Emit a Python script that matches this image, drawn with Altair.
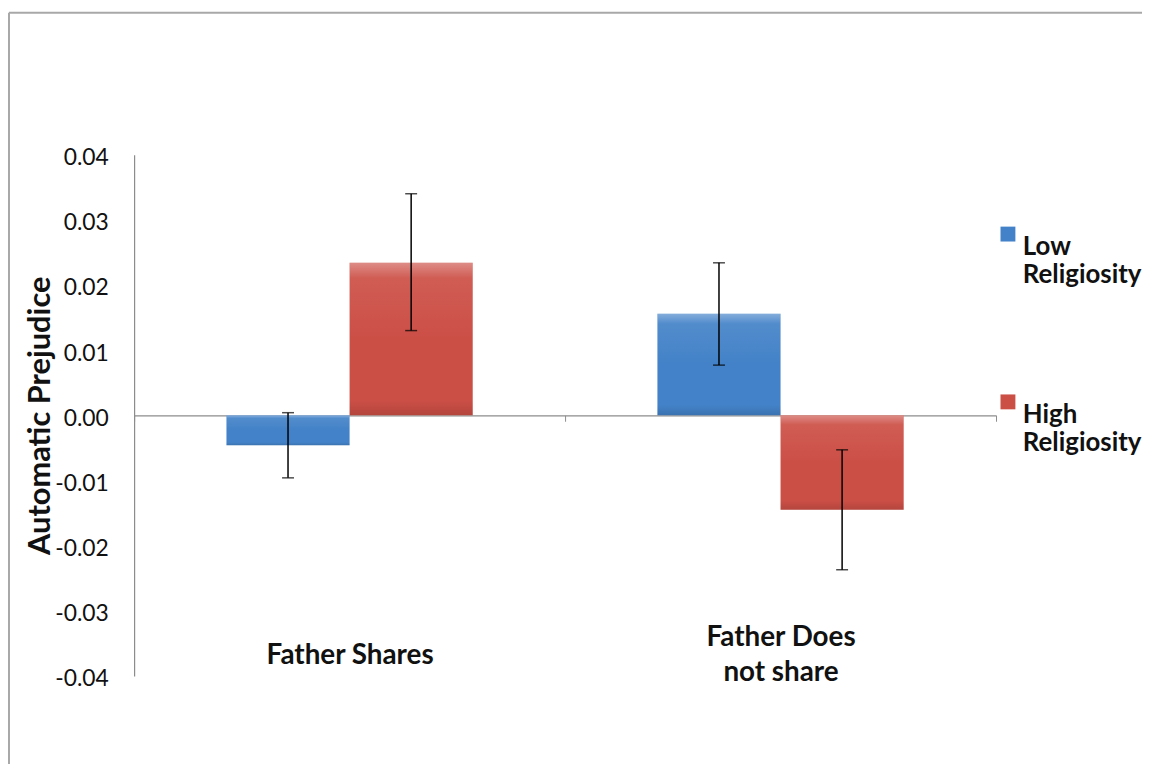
import altair as alt
import pandas as pd

categories = ["Father Shares", "Father Does|not share"]
groups = ["Low Religiosity", "High Religiosity"]
low_means = [-0.0046, 0.0156]
high_means = [0.0234, -0.0145]
low_lower = [-0.0096, 0.0077]
low_upper = [0.0004, 0.0234]
high_lower = [0.0130, -0.0237]
high_upper = [0.0340, -0.0053]
y_ticks = [-0.04, -0.03, -0.02, -0.01, 0.0, 0.01, 0.02, 0.03, 0.04]
colors = ["#4382C8", "#CC4F46"]

rows = []
for i, c in enumerate(categories):
    rows.append({"cat": c, "grp": groups[0], "val": low_means[i], "lo": low_lower[i], "hi": low_upper[i]})
    rows.append({"cat": c, "grp": groups[1], "val": high_means[i], "lo": high_lower[i], "hi": high_upper[i]})
df = pd.DataFrame(rows)

W, H = 868, 525
FONT = "Lato"

x_label_expr = (
    "indexof(datum.label, '|') >= 0 ? "
    "[split(datum.label, '|')[0], '\u200b', split(datum.label, '|')[1]] : ['\u00a0', datum.label]"
)

x_enc = alt.X(
    "cat:N",
    sort=categories,
    scale=alt.Scale(paddingInner=0, paddingOuter=0),
    axis=alt.Axis(
        title=None,
        orient="bottom",
        offset=-H / 2,
        domainColor="#8c8c8c",
        domainWidth=1.2,
        tickColor="#8c8c8c",
        tickSize=6,
        tickBand="extent",
        labelAngle=0,
        labelFont=FONT,
        labelFontWeight="bold",
        labelFontSize=28,
        labelColor="#111111",
        labelLineHeight=17.5,
        labelBaseline="middle",
        labelPadding=218,
        labelExpr=x_label_expr,
        grid=False,
    ),
)
xo_enc = alt.XOffset("grp:N", sort=groups, scale=alt.Scale(paddingInner=0, paddingOuter=0.75))

y_scale = alt.Scale(domain=[-0.04, 0.04], nice=False, zero=False)
y_axis = alt.Axis(
    title="Automatic Prejudice",
    values=y_ticks,
    labelExpr="replace(format(datum.value, '.2f'), '\u2212', '-')",
    ticks=False,
    tickSize=0,
    grid=False,
    domainColor="#8c8c8c",
    domainWidth=1.2,
    labelFont=FONT,
    labelFontSize=23,
    labelColor="#111111",
    labelPadding=26,
    labelOffset=3,
    titleFont=FONT,
    titleFontSize=31,
    titleFontWeight="bold",
    titleColor="#111111",
    titlePadding=-2,
)

base = alt.Chart(df)

bars = base.mark_bar().encode(
    x=x_enc,
    xOffset=xo_enc,
    y=alt.Y("val:Q", scale=y_scale, axis=y_axis),
    color=alt.Color(
        "grp:N",
        sort=groups,
        scale=alt.Scale(domain=groups, range=colors),
        legend=alt.Legend(
            title=None,
            orient="none",
            legendX=867,
            legendY=67,
            symbolType="square",
            symbolSize=225,
            symbolStrokeWidth=0,
            symbolOpacity=1,
            labelFont=FONT,
            labelFontWeight="bold",
            labelFontSize=26,
            labelColor="#111111",
            labelBaseline="top",
            labelOffset=2,
            labelExpr="split(datum.label, ' ')",
            rowPadding=102,
            labelLimit=300,
        ),
    ),
)

shade = base.mark_bar(
    color=alt.Gradient(
        gradient="linear",
        x1=0, x2=0, y1=0, y2=1,
        stops=[
            alt.GradientStop(color="rgba(255,255,255,0.35)", offset=0),
            alt.GradientStop(color="rgba(255,255,255,0.08)", offset=0.1),
            alt.GradientStop(color="rgba(255,255,255,0)", offset=0.5),
            alt.GradientStop(color="rgba(0,0,0,0)", offset=0.9),
            alt.GradientStop(color="rgba(0,0,0,0.12)", offset=1),
        ],
    )
).encode(x=x_enc, xOffset=xo_enc, y=alt.Y("val:Q", scale=y_scale))

rules = base.mark_rule(color="#000000", strokeWidth=1.5).encode(
    x=x_enc, xOffset=xo_enc, y=alt.Y("lo:Q", scale=y_scale), y2="hi:Q"
)
caps_lo = base.mark_tick(color="#000000", size=12, thickness=1.5).encode(
    x=x_enc, xOffset=xo_enc, y=alt.Y("lo:Q", scale=y_scale)
)
caps_hi = base.mark_tick(color="#000000", size=12, thickness=1.5).encode(
    x=x_enc, xOffset=xo_enc, y=alt.Y("hi:Q", scale=y_scale)
)

frame_left = alt.Chart(pd.DataFrame({"a": [0]})).mark_rule(color="#a8a8a8", strokeWidth=2).encode(
    x=alt.value(-126), y=alt.value(-143), y2=alt.value(619)
)
frame_top = alt.Chart(pd.DataFrame({"a": [0]})).mark_rule(color="#a8a8a8", strokeWidth=2).encode(
    x=alt.value(-126), x2=alt.value(1020), y=alt.value(-143)
)

chart = alt.layer(frame_left, frame_top, bars, shade, rules, caps_lo, caps_hi).properties(
    width=W,
    height=H,
    autosize=alt.AutoSizeParams(type="none"),
    padding={"left": 127, "top": 145, "right": 147, "bottom": 86},
    background="white",
).configure_view(stroke=None)

chart.save("out.html", embed_options={"renderer": "svg", "actions": False})
